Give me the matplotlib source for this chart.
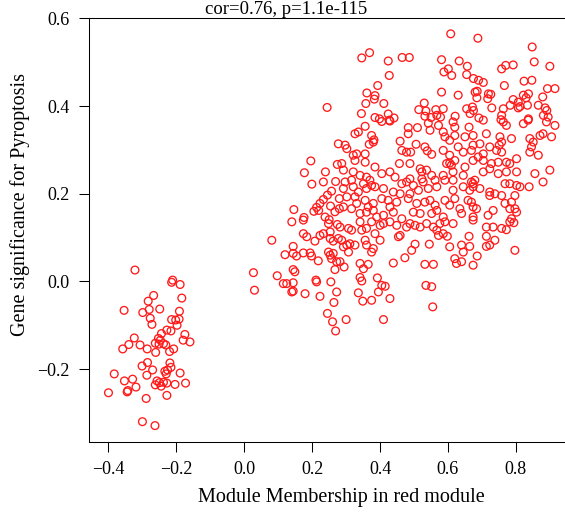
import numpy as np
import matplotlib
matplotlib.use("Agg")
import matplotlib.pyplot as plt

plt.rcParams['font.family'] = ['Liberation Serif', 'DejaVu Serif']

# module membership (x) / gene significance (y)
left_cloud = [
    (-0.322, 0.026), (-0.211, 0.003), (-0.214, -0.002), (-0.189, -0.007), (-0.267, -0.032),
    (-0.184, -0.038), (-0.283, -0.045), (-0.354, -0.066), (-0.299, -0.071), (-0.280, -0.064),
    (-0.249, -0.063), (-0.191, -0.068), (-0.277, -0.084), (-0.214, -0.087), (-0.202, -0.088),
    (-0.192, -0.086), (-0.272, -0.098), (-0.198, -0.100), (-0.228, -0.111), (-0.216, -0.113),
    (-0.244, -0.119), (-0.175, -0.121), (-0.324, -0.129), (-0.253, -0.130), (-0.180, -0.134),
    (-0.160, -0.138), (-0.340, -0.144), (-0.358, -0.154), (-0.307, -0.145), (-0.286, -0.154),
    (-0.262, -0.141), (-0.251, -0.143), (-0.238, -0.142), (-0.231, -0.145), (-0.247, -0.134),
    (-0.208, -0.154), (-0.220, -0.160), (-0.261, -0.162), (-0.285, -0.185), (-0.301, -0.193),
    (-0.219, -0.186), (-0.216, -0.196), (-0.270, -0.202), (-0.287, -0.214), (-0.234, -0.205),
    (-0.226, -0.202), (-0.230, -0.211), (-0.189, -0.209), (-0.383, -0.211), (-0.353, -0.227),
    (-0.329, -0.223), (-0.257, -0.227), (-0.250, -0.231), (-0.238, -0.230), (-0.228, -0.232),
    (-0.262, -0.236), (-0.245, -0.239), (-0.204, -0.235), (-0.173, -0.232), (-0.319, -0.241),
    (-0.343, -0.249), (-0.345, -0.252), (-0.400, -0.254), (-0.228, -0.260), (-0.289, -0.267),
    (-0.300, -0.320), (-0.263, -0.329),
]

upper_band = [
    (0.244, 0.397),
    (0.346, 0.510), (0.369, 0.522), (0.424, 0.503), (0.465, 0.511), (0.486, 0.511),
    (0.427, 0.470), (0.393, 0.447), (0.361, 0.430), (0.385, 0.424), (0.383, 0.416),
    (0.358, 0.406), (0.411, 0.406), (0.530, 0.407), (0.345, 0.383), (0.385, 0.374),
    (0.398, 0.371), (0.424, 0.382), (0.427, 0.368), (0.441, 0.373), (0.514, 0.392),
    (0.535, 0.389), (0.564, 0.392), (0.532, 0.377), (0.550, 0.374), (0.567, 0.379),
    (0.608, 0.565), (0.688, 0.555), (0.848, 0.535), (0.581, 0.506), (0.633, 0.503),
    (0.657, 0.491), (0.854, 0.501), (0.900, 0.491), (0.588, 0.478), (0.601, 0.485),
    (0.611, 0.470), (0.655, 0.472), (0.758, 0.485), (0.770, 0.493), (0.792, 0.494),
    (0.675, 0.463), (0.690, 0.459), (0.704, 0.454), (0.824, 0.457), (0.847, 0.459),
    (0.766, 0.447), (0.581, 0.432), (0.630, 0.425), (0.680, 0.432), (0.686, 0.434),
    (0.685, 0.419), (0.719, 0.428), (0.726, 0.427), (0.717, 0.417), (0.792, 0.415),
    (0.807, 0.409), (0.822, 0.425), (0.837, 0.428), (0.830, 0.419), (0.893, 0.440),
    (0.915, 0.440), (0.879, 0.421), (0.586, 0.394), (0.655, 0.394), (0.672, 0.398),
    (0.675, 0.390), (0.665, 0.383), (0.729, 0.396), (0.763, 0.394), (0.783, 0.402),
    (0.807, 0.396), (0.812, 0.399), (0.834, 0.402), (0.866, 0.402), (0.886, 0.396),
    (0.891, 0.390), (0.881, 0.379), (0.895, 0.375), (0.758, 0.379), (0.756, 0.369),
    (0.837, 0.371), (0.621, 0.377), (0.691, 0.373), (0.578, 0.375),
]

middle_band = [
    (0.277, 0.314), (0.196, 0.275), (0.274, 0.267), (0.177, 0.248), (0.239, 0.250),
    (0.199, 0.222), (0.233, 0.227), (0.269, 0.228), (0.257, 0.206), (0.245, 0.197),
    (0.233, 0.187), (0.223, 0.178), (0.213, 0.169), (0.205, 0.160), (0.219, 0.162),
    (0.280, 0.189), (0.254, 0.172), (0.280, 0.166), (0.267, 0.159), (0.146, 0.164),
    (0.176, 0.146), (0.238, 0.147), (0.250, 0.141),
    (0.326, 0.337), (0.336, 0.341), (0.356, 0.354), (0.375, 0.333), (0.382, 0.323),
    (0.368, 0.313), (0.380, 0.318), (0.405, 0.365), (0.429, 0.366), (0.483, 0.351),
    (0.483, 0.337), (0.510, 0.351), (0.542, 0.361), (0.547, 0.345), (0.572, 0.356),
    (0.297, 0.311), (0.302, 0.303), (0.459, 0.320), (0.464, 0.299), (0.478, 0.295),
    (0.490, 0.295), (0.506, 0.313), (0.532, 0.307), (0.539, 0.298), (0.552, 0.290),
    (0.321, 0.288), (0.331, 0.291), (0.356, 0.291), (0.326, 0.276), (0.356, 0.272),
    (0.385, 0.261), (0.457, 0.269), (0.488, 0.269), (0.518, 0.257), (0.523, 0.250),
    (0.537, 0.254), (0.287, 0.269), (0.292, 0.254), (0.321, 0.250), (0.316, 0.231),
    (0.341, 0.242), (0.360, 0.238), (0.370, 0.231), (0.375, 0.219), (0.405, 0.246),
    (0.429, 0.250), (0.444, 0.238), (0.464, 0.223), (0.478, 0.227), (0.488, 0.234),
    (0.498, 0.219), (0.523, 0.234), (0.527, 0.227), (0.552, 0.242), (0.562, 0.231),
    (0.297, 0.227), (0.292, 0.212), (0.321, 0.216), (0.336, 0.204), (0.351, 0.223),
    (0.360, 0.212), (0.385, 0.216), (0.410, 0.212), (0.439, 0.204), (0.459, 0.200),
    (0.488, 0.200), (0.513, 0.208), (0.542, 0.212), (0.567, 0.216), (0.302, 0.193),
    (0.326, 0.193), (0.331, 0.178), (0.356, 0.185), (0.365, 0.170), (0.380, 0.178),
    (0.405, 0.189), (0.424, 0.185), (0.429, 0.170), (0.449, 0.181), (0.483, 0.189),
    (0.508, 0.178), (0.532, 0.181), (0.547, 0.185), (0.562, 0.174), (0.292, 0.170),
    (0.316, 0.166), (0.341, 0.155), (0.360, 0.158), (0.380, 0.162), (0.390, 0.147),
    (0.410, 0.151), (0.439, 0.158), (0.464, 0.143), (0.498, 0.158), (0.518, 0.155),
    (0.552, 0.155), (0.567, 0.162),
    (0.615, 0.364), (0.620, 0.352), (0.662, 0.352), (0.704, 0.368), (0.763, 0.364),
    (0.772, 0.356), (0.822, 0.360), (0.836, 0.368), (0.890, 0.364), (0.915, 0.356),
    (0.586, 0.341), (0.591, 0.330), (0.605, 0.322), (0.620, 0.333), (0.650, 0.330),
    (0.674, 0.333), (0.713, 0.337), (0.753, 0.330), (0.758, 0.318), (0.751, 0.311),
    (0.787, 0.326), (0.841, 0.326), (0.851, 0.318), (0.846, 0.307), (0.871, 0.333),
    (0.880, 0.337), (0.905, 0.330), (0.586, 0.299), (0.605, 0.288), (0.630, 0.307),
    (0.645, 0.295), (0.669, 0.299), (0.674, 0.311), (0.694, 0.314), (0.704, 0.291),
    (0.723, 0.307), (0.743, 0.299), (0.758, 0.295), (0.841, 0.295), (0.866, 0.288),
    (0.596, 0.269), (0.605, 0.270), (0.610, 0.265), (0.620, 0.276), (0.650, 0.261),
    (0.674, 0.276), (0.689, 0.284), (0.704, 0.276), (0.728, 0.269), (0.748, 0.272),
    (0.772, 0.272), (0.782, 0.269), (0.802, 0.280), (0.586, 0.242), (0.591, 0.231),
    (0.615, 0.250), (0.615, 0.231), (0.645, 0.242), (0.669, 0.227), (0.674, 0.223),
    (0.679, 0.231), (0.704, 0.250), (0.723, 0.257), (0.748, 0.246), (0.772, 0.250),
    (0.802, 0.250), (0.856, 0.246), (0.900, 0.254), (0.880, 0.227), (0.839, 0.216),
    (0.615, 0.208), (0.645, 0.216), (0.664, 0.208), (0.674, 0.216), (0.694, 0.212),
    (0.723, 0.204), (0.738, 0.200), (0.768, 0.223), (0.782, 0.223), (0.802, 0.219),
    (0.812, 0.216), (0.797, 0.196), (0.591, 0.185), (0.605, 0.174), (0.620, 0.189),
    (0.635, 0.166), (0.659, 0.185), (0.669, 0.181), (0.674, 0.170), (0.684, 0.166),
    (0.723, 0.196), (0.733, 0.162), (0.758, 0.196), (0.768, 0.178), (0.782, 0.166),
    (0.797, 0.166), (0.787, 0.181), (0.586, 0.147), (0.640, 0.155), (0.674, 0.147),
    (0.718, 0.151), (0.787, 0.143), (0.802, 0.158),
]

lower_band = [
    (0.140, 0.136), (0.174, 0.140), (0.248, 0.132), (0.274, 0.130), (0.081, 0.094),
    (0.174, 0.109), (0.184, 0.102), (0.223, 0.105), (0.233, 0.109), (0.208, 0.092),
    (0.253, 0.113), (0.253, 0.098), (0.262, 0.092), (0.277, 0.098), (0.144, 0.080),
    (0.120, 0.061), (0.144, 0.064), (0.154, 0.058), (0.174, 0.065), (0.194, 0.065),
    (0.198, 0.058), (0.218, 0.047), (0.248, 0.067), (0.253, 0.060), (0.257, 0.052),
    (0.262, 0.064), (0.272, 0.045), (0.267, 0.027), (0.144, 0.027), (0.149, 0.022),
    (0.027, 0.020), (0.097, 0.013), (0.115, -0.005), (0.125, -0.005), (0.144, -0.003),
    (0.211, 0.003), (0.213, -0.001), (0.255, -0.001), (0.030, -0.020), (0.140, -0.024),
    (0.144, -0.022), (0.179, -0.028), (0.223, -0.034), (0.272, -0.024), (0.264, -0.048),
    (0.245, -0.073), (0.260, -0.092), (0.269, -0.113),
    (0.282, 0.124), (0.307, 0.121), (0.316, 0.117), (0.341, 0.136), (0.346, 0.117),
    (0.360, 0.121), (0.375, 0.136), (0.385, 0.109), (0.400, 0.128), (0.410, 0.132),
    (0.429, 0.136), (0.449, 0.128), (0.459, 0.105), (0.454, 0.102), (0.478, 0.124),
    (0.488, 0.132), (0.503, 0.128), (0.518, 0.124), (0.537, 0.132), (0.557, 0.124),
    (0.567, 0.117), (0.572, 0.105), (0.287, 0.094), (0.292, 0.079), (0.302, 0.083),
    (0.307, 0.067), (0.311, 0.086), (0.326, 0.083), (0.356, 0.094), (0.360, 0.083),
    (0.375, 0.067), (0.380, 0.075), (0.400, 0.094), (0.493, 0.071), (0.503, 0.085),
    (0.545, 0.085), (0.282, 0.045), (0.294, 0.033), (0.341, 0.041), (0.351, 0.029),
    (0.365, 0.039), (0.439, 0.042), (0.473, 0.054), (0.532, 0.039), (0.557, 0.039),
    (0.341, 0.009), (0.346, 0.001), (0.392, 0.008), (0.405, -0.009), (0.415, -0.011),
    (0.395, -0.024), (0.336, -0.026), (0.349, -0.045), (0.375, -0.043), (0.429, -0.039),
    (0.535, -0.009), (0.552, -0.012), (0.555, -0.058), (0.300, -0.087), (0.410, -0.087),
    (0.576, 0.132), (0.591, 0.136), (0.615, 0.132), (0.674, 0.140), (0.713, 0.124),
    (0.733, 0.124), (0.758, 0.121), (0.772, 0.118), (0.782, 0.136), (0.794, 0.134),
    (0.586, 0.109), (0.598, 0.103), (0.662, 0.103), (0.713, 0.103), (0.605, 0.079),
    (0.640, 0.083), (0.664, 0.080), (0.645, 0.067), (0.713, 0.080), (0.723, 0.083),
    (0.738, 0.094), (0.797, 0.071), (0.686, 0.058), (0.620, 0.052), (0.625, 0.041),
    (0.640, 0.045), (0.674, 0.037),
]

title_text = "cor=0.76, p=1.1e-115"
x_label = "Module Membership in red module"
y_label = "Gene significance for Pyroptosis"
x_ticks = [-0.4, -0.2, 0.0, 0.2, 0.4, 0.6, 0.8]
y_ticks = [-0.2, 0.0, 0.2, 0.4, 0.6]

pts = np.array(left_cloud + upper_band + middle_band + lower_band)

fig = plt.figure(figsize=(5.65, 5.12), dpi=100)
ax = fig.add_axes([0.1575, 0.1373, 0.892, 0.8266])

ax.scatter(pts[:, 0], pts[:, 1], s=31, facecolors='none', edgecolors='#ff1a1a',
           linewidths=0.95, clip_on=False)

ax.set_xlim(-0.4574, 1.027)
ax.set_ylim(-0.3657, 0.6)
ax.set_xticks(x_ticks)
ax.set_yticks(y_ticks)
ax.set_xticklabels([f"{t:.1f}".replace("-", "\u2212") for t in x_ticks])
ax.set_yticklabels([f"{t:.1f}".replace("-", "\u2212") for t in y_ticks])
ax.tick_params(direction='out', length=7.2, width=0.75, pad=7, labelsize=13)
for sp in ax.spines.values():
    sp.set_linewidth(0.75)
ax.spines['right'].set_visible(False)

ax.set_xlabel(x_label, fontsize=14.5, labelpad=7)
fig.text(20 / 565, 1 - 205 / 512, y_label, rotation=90, fontsize=14.5,
         ha='center', va='center')
fig.text(286 / 565, 1 - 1 / 512, title_text, fontsize=13.5, ha='center', va='top')

fig.savefig("out.png", dpi=100)
